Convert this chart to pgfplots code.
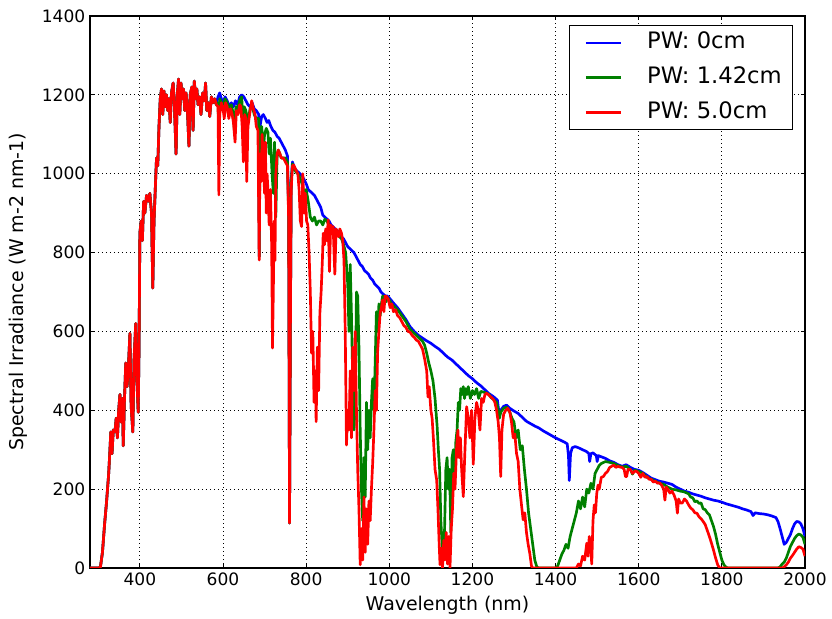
\documentclass[border=0pt]{standalone}
\usepackage{fontspec}
\setmainfont{DejaVu Sans}
\usepackage{pgfplots}
\usepackage{pgfplotstable}
\pgfplotsset{compat=1.18}

\pgfplotstableread{
x y
280 0
300 0
305 2
310 40
315 110
320 170
325 240
328 300
330 345
333 290
336 350
340 345
343 380
346 330
349 400
352 440
355 370
358 430
360 310
363 430
366 520
369 460
372 500
376 595
379 410
383 345
386 530
390 620
393 470
396 395
398 560
400 850
403 880
406 830
409 930
412 900
416 945
420 930
424 950
428 900
431 710
434 880
437 960
440 1040
443 1020
446 1120
449 1190
452 1215
455 1150
458 1210
461 1170
464 1200
467 1160
470 1190
473 1130
476 1205
480 1230
483 1175
487 1050
490 1200
493 1240
496 1150
499 1230
502 1190
505 1215
508 1160
511 1205
514 1170
518 1070
521 1200
525 1220
528 1110
531 1235
534 1190
537 1215
540 1175
544 1195
547 1150
551 1205
555 1185
558 1230
561 1160
565 1180
568 1145
572 1195
576 1180
580 1190
584 1175
588 1195
592 1205
596 1190
600 1180
605 1195
610 1185
615 1170
620 1180
625 1170
630 1185
635 1175
640 1195
645 1200
650 1195
655 1185
660 1175
665 1170
670 1180
675 1165
680 1160
686 1150
687 790
689 1120
693 1145
697 1150
702 1140
706 1130
710 1135
715 1120
720 1110
725 1105
730 1095
735 1090
740 1080
745 1070
750 1060
755 1045
758 900
760 114
762 600
764 980
767 1030
770 1020
775 1010
780 1005
785 1000
790 995
795 985
800 975
805 960
810 955
815 950
820 945
825 935
830 925
835 915
840 895
845 890
850 885
855 880
860 870
865 865
870 860
875 855
880 850
885 840
890 835
895 825
900 815
905 810
910 805
915 800
920 790
925 780
930 770
935 765
940 755
945 750
950 745
955 735
960 730
965 720
970 715
975 710
980 700
985 695
990 690
995 690
1000 685
1010 672
1020 660
1030 645
1040 630
1050 612
1060 600
1070 590
1080 583
1090 576
1100 570
1110 562
1120 555
1130 545
1140 535
1150 528
1160 518
1170 508
1180 498
1190 488
1200 480
1210 470
1220 462
1230 452
1240 442
1250 435
1260 426
1265 385
1268 400
1275 410
1282 413
1290 405
1300 398
1310 392
1320 382
1330 372
1340 366
1350 360
1360 355
1370 348
1380 342
1390 336
1400 330
1410 325
1420 320
1428 315
1431 285
1433 222
1436 290
1440 305
1447 308
1455 305
1465 300
1475 295
1480 290
1482 270
1485 290
1490 292
1498 285
1500 270
1503 285
1510 282
1520 278
1530 272
1540 268
1550 262
1560 258
1570 262
1580 255
1590 250
1600 248
1610 242
1620 235
1630 228
1640 224
1650 220
1660 218
1670 215
1680 212
1690 205
1700 200
1710 195
1720 192
1730 188
1740 185
1750 182
1760 178
1770 175
1780 172
1790 170
1800 167
1810 163
1820 160
1830 157
1840 154
1850 150
1860 147
1870 143
1875 133
1880 140
1890 138
1900 137
1910 135
1920 132
1930 128
1935 118
1940 100
1945 80
1950 60
1955 65
1960 75
1965 85
1970 100
1975 112
1980 118
1985 117
1990 112
1995 100
2000 80
}\blue

\pgfplotstableread{
x y
280 0
300 0
305 2
310 40
315 110
320 170
325 240
328 300
330 345
333 290
336 350
340 345
343 380
346 330
349 400
352 440
355 370
358 430
360 310
363 430
366 520
369 460
372 500
376 595
379 410
383 345
386 530
390 620
393 470
396 395
398 560
400 850
403 880
406 830
409 930
412 900
416 945
420 930
424 950
428 900
431 710
434 880
437 960
440 1040
443 1020
446 1120
449 1190
452 1215
455 1150
458 1210
461 1170
464 1200
467 1160
470 1190
473 1130
476 1205
480 1230
483 1175
487 1050
490 1200
493 1240
496 1150
499 1230
502 1190
505 1215
508 1160
511 1205
514 1170
518 1070
521 1200
525 1220
528 1110
531 1235
534 1190
537 1215
540 1175
544 1195
547 1150
551 1205
555 1185
558 1230
561 1160
565 1180
568 1145
572 1195
576 1180
580 1190
584 1175
588 1180
590 1100
592 1190
596 1180
600 1170
605 1190
610 1180
615 1160
620 1175
625 1150
628 1100
631 1170
635 1165
640 1185
645 1195
648 1120
651 1170
655 1160
660 1130
665 1165
670 1175
675 1150
680 1140
686 1140
687 790
689 1080
693 1120
697 1060
700 1100
704 1115
708 1105
711 1050
714 1090
718 1000
721 950
724 1080
727 890
730 1040
733 1060
737 1050
740 1040
745 1040
750 1040
755 1030
758 890
760 114
762 600
764 975
767 1025
770 1015
775 1005
780 1000
785 990
790 975
795 950
800 960
805 930
810 890
815 880
820 890
825 870
830 880
835 880
840 870
845 885
850 880
855 870
860 865
865 860
870 855
875 850
880 840
885 835
890 820
895 800
900 720
903 600
906 770
909 640
912 480
915 350
918 420
921 700
924 690
927 560
930 350
933 200
936 120
939 280
942 180
945 420
948 300
951 400
954 330
957 420
960 480
963 400
966 520
969 650
972 600
975 670
978 640
981 670
984 690
988 680
992 675
996 685
1000 680
1005 670
1010 665
1020 655
1030 640
1040 625
1050 605
1060 595
1070 585
1080 575
1085 565
1090 545
1095 520
1100 500
1105 475
1110 430
1115 360
1118 300
1121 250
1124 120
1127 60
1130 30
1133 100
1136 250
1139 280
1142 200
1145 250
1148 90
1151 280
1154 300
1157 200
1160 320
1163 350
1166 420
1169 400
1172 455
1175 440
1178 460
1181 430
1184 455
1187 440
1190 460
1195 430
1200 450
1205 440
1210 455
1215 430
1220 448
1230 445
1240 440
1245 432
1250 428
1258 420
1262 400
1265 380
1268 395
1275 405
1282 408
1290 395
1295 380
1300 370
1305 330
1310 350
1315 300
1320 310
1325 250
1330 200
1335 140
1340 100
1345 60
1350 20
1355 2
1360 0
1400 0
1405 5
1410 20
1415 35
1420 45
1425 60
1430 50
1435 80
1440 100
1445 120
1450 140
1455 170
1460 150
1465 180
1470 155
1475 200
1480 190
1485 215
1490 200
1495 240
1500 250
1505 260
1510 265
1520 270
1530 268
1540 265
1550 260
1560 256
1570 258
1580 250
1585 238
1590 248
1600 245
1610 240
1620 230
1630 225
1640 220
1650 215
1660 212
1670 205
1680 200
1690 198
1700 195
1710 193
1720 188
1725 180
1730 178
1735 168
1740 170
1745 164
1750 165
1755 150
1760 148
1765 140
1770 135
1775 120
1780 105
1785 85
1790 60
1795 40
1800 20
1805 8
1810 2
1815 0
1935 0
1940 3
1945 10
1950 15
1955 25
1960 40
1965 55
1970 65
1975 75
1980 82
1985 86
1990 84
1995 78
2000 60
}\green

\pgfplotstableread{
x y
280 0
300 0
305 2
310 40
315 110
320 170
325 240
328 300
330 345
333 290
336 350
340 345
343 380
346 330
349 400
352 440
355 370
358 430
360 310
363 430
366 520
369 460
372 500
376 595
379 410
383 345
386 530
390 620
393 470
396 395
398 560
400 850
403 880
406 830
409 930
412 900
416 945
420 930
424 950
428 900
431 710
434 880
437 960
440 1040
443 1020
446 1120
449 1190
452 1215
455 1150
458 1210
461 1170
464 1200
467 1160
470 1190
473 1130
476 1205
480 1230
483 1175
487 1050
490 1200
493 1240
496 1150
499 1230
502 1190
505 1215
508 1160
511 1205
514 1170
518 1070
521 1200
525 1220
528 1110
531 1235
534 1190
537 1215
540 1175
544 1195
547 1150
551 1205
555 1185
558 1230
561 1160
565 1180
568 1145
572 1195
576 1180
580 1190
584 1175
588 1170
590 946
592 1150
596 1180
600 1165
603 1140
606 1180
610 1170
614 1140
618 1165
622 1150
625 1130
629 1080
632 1160
636 1150
640 1175
643 1170
646 1120
649 1030
652 1150
655 1140
657 980
660 1120
664 1150
669 1185
673 1165
677 1150
680 1120
684 1110
687 781
689 1050
692 980
694 1100
697 1030
700 950
702 1080
704 900
706 1000
708 960
711 870
714 960
717 820
719 558
721 700
723 880
725 780
727 1000
730 1050
733 1060
737 1050
740 1040
745 1040
750 1030
755 1020
758 880
760 114
762 600
764 960
767 1020
770 1022
775 1010
780 1000
783 960
786 880
789 866
792 1000
795 900
798 950
801 880
804 870
807 800
810 700
813 545
816 600
819 420
822 500
824 371
827 560
830 450
833 647
836 700
839 780
841 849
844 820
847 860
850 830
853 883
856 752
859 870
862 860
865 866
867 800
869 745
872 860
875 850
878 840
881 860
885 849
888 830
891 780
894 600
897 312
900 400
903 350
906 500
909 330
912 560
915 450
918 600
921 400
924 250
927 150
930 8
933 100
936 20
939 180
942 40
945 150
948 60
951 170
954 120
957 200
960 266
963 350
966 450
969 400
972 550
975 600
978 647
981 660
984 680
987 650
990 690
994 688
998 680
1002 660
1006 670
1010 650
1015 655
1020 640
1025 635
1030 625
1035 615
1040 610
1045 600
1050 598
1055 590
1060 585
1065 578
1070 575
1075 565
1080 555
1085 530
1090 500
1093 434
1096 460
1100 400
1103 380
1106 330
1110 250
1114 223
1117 150
1120 60
1122 8
1125 50
1128 0
1131 70
1134 20
1137 90
1140 10
1143 80
1146 0
1149 100
1152 150
1155 240
1158 200
1162 308
1165 350
1168 280
1171 330
1174 250
1178 181
1182 300
1186 409
1190 380
1194 330
1198 400
1202 263
1206 380
1210 420
1214 400
1218 350
1222 430
1226 420
1230 440
1234 443
1238 440
1242 436
1246 432
1250 428
1254 420
1258 400
1262 370
1265 330
1268 232
1271 350
1275 390
1280 400
1285 405
1290 395
1294 370
1298 330
1302 340
1306 291
1310 270
1314 200
1318 160
1322 122
1326 140
1330 90
1334 60
1338 37
1342 5
1345 0
1450 0
1455 10
1460 5
1465 30
1470 20
1475 63
1478 30
1481 80
1484 60
1487 10
1490 120
1493 160
1496 140
1499 189
1502 210
1505 200
1510 230
1515 232
1520 240
1525 245
1530 255
1535 258
1540 261
1545 255
1550 258
1555 256
1560 255
1565 250
1568 232
1571 232
1574 250
1580 250
1585 240
1590 245
1595 245
1600 240
1605 230
1610 240
1615 230
1620 232
1625 225
1630 225
1635 218
1640 220
1645 215
1650 216
1655 210
1660 200
1663 172
1666 205
1670 200
1675 190
1680 195
1685 185
1690 170
1693 139
1696 175
1700 165
1705 165
1710 175
1715 170
1720 160
1725 152
1730 148
1735 140
1740 139
1745 130
1750 125
1755 118
1760 110
1765 95
1770 80
1775 63
1780 45
1785 25
1790 8
1795 0
1945 0
1950 3
1955 8
1960 15
1965 25
1970 32
1975 40
1980 48
1985 54
1990 52
1995 48
2000 30
}\red

\begin{document}
\begin{tikzpicture}
\begin{axis}[
  scale only axis,
  width=536.25pt, height=414pt,
  xmin=280, xmax=2000, ymin=0, ymax=1400,
  xtick={400,600,...,2000},
  ytick={0,200,...,1400},
  /pgf/number format/1000 sep={},
  /pgf/number format/assume math mode=true,
  tick label style={font=\fontsize{12.8}{15}\selectfont, black},
  label style={font=\fontsize{14.2}{17}\selectfont},
  xlabel={Wavelength (nm)},
  ylabel={Spectral Irradiance (W m-2 nm-1)},
  xlabel style={at={(axis description cs:0.5,-0.067)}, anchor=center},
  ylabel style={at={(axis description cs:-0.1007,0.5)}, anchor=center},
  axis line style={black, line width=0.9pt},
  tick align=inside,
  major tick length=3pt,
  tick style={black, line width=0.6pt},
  grid=major,
  major grid style={black, line width=0.6pt, dash pattern=on 0.75pt off 2.25pt},
  legend style={at={(1,1)}, anchor=north east, xshift=-9pt, yshift=-6.75pt,
    draw=black, line width=0.8pt, fill=white,
    font=\fontsize{17}{20}\selectfont,
    inner xsep=8pt, inner ysep=5pt, row sep=10pt,
    nodes={inner xsep=0pt, inner ysep=0pt, text height=12.5pt, text depth=3.5pt},
    /tikz/every odd column/.append style={column sep=19pt}},
  legend cell align=left,
  legend image code/.code={\path (0pt,0pt); \draw[#1, line width=2pt] (3pt,0pt) -- (29pt,0pt);},
  every axis plot/.append style={line width=2pt, line join=round},
]
\addplot[color={rgb,1:red,0;green,0;blue,1}, no markers] table[x=x,y=y] {\blue};
\addlegendentry{PW: 0cm}
\addplot[color={rgb,1:red,0;green,0.5;blue,0}, no markers] table[x=x,y=y] {\green};
\addlegendentry{PW: 1.42cm}
\addplot[color={rgb,1:red,1;green,0;blue,0}, no markers] table[x=x,y=y] {\red};
\addlegendentry{PW: 5.0cm}
\end{axis}
\path ([shift={(-67.5pt,-37.5pt)}]current axis.south west) rectangle ([shift={(20.25pt,12pt)}]current axis.north east);
\end{tikzpicture}
\end{document}
